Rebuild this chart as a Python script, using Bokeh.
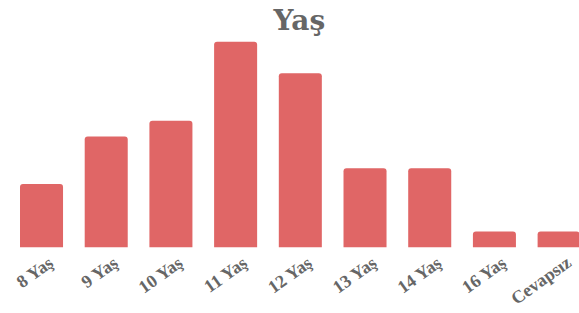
import numpy as np
from bokeh.plotting import figure
from bokeh.models import Range1d, ColumnDataSource
from bokeh.embed import file_html
from bokeh.resources import INLINE

categories = ["8 Yaş", "9 Yaş", "10 Yaş", "11 Yaş", "12 Yaş", "13 Yaş", "14 Yaş", "16 Yaş", "Cevapsız"]
values = [4, 7, 8, 13, 11, 5, 5, 1, 1]
title_text = "Yaş"

BAR = "#e06666"
TXT = "#666666"
FONT = "DejaVu Serif"

idx = list(range(len(categories)))
src = ColumnDataSource(dict(x=idx, top=values, label=categories, zero=[0] * len(idx)))

p = figure(width=579, height=313, output_backend="svg", toolbar_location=None,
           x_range=Range1d(-0.634, 8.315), y_range=Range1d(-4.185, 13.2),
           x_axis_location=None, y_axis_location=None,
           min_border_left=0, min_border_right=0, min_border_top=0, min_border_bottom=0)

p.title.text = title_text
p.title.text_font = FONT
p.title.text_font_style = "bold"
p.title.text_font_size = "28px"
p.title.text_color = TXT
p.title.align = "left"
p.title.offset = 273
p.title.standoff = 3

p.grid.visible = False
p.outline_line_color = None

p.vbar(x="x", top="top", bottom=0, width=0.665, source=src, fill_color=BAR, line_color=None,
       border_radius=(3, 3, 0, 0))

p.text(x="x", y="zero", text="label", source=src, angle=0.62, angle_units="rad",
       text_align="right", text_baseline="middle", x_offset=10, y_offset=13,
       text_font=FONT, text_font_style="bold", text_font_size="18px",
       text_color=TXT)

open("out.html", "w").write(file_html(p, INLINE))
